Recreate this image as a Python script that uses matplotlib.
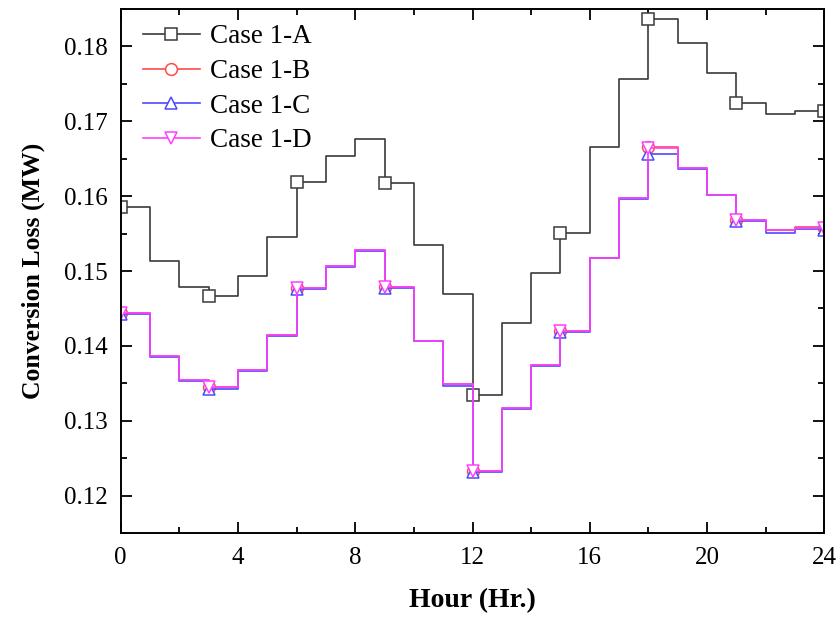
import matplotlib
matplotlib.use("Agg")
import matplotlib.pyplot as plt
from matplotlib.ticker import MultipleLocator, FormatStrFormatter

plt.rcParams['font.family'] = ['Liberation Serif', 'DejaVu Serif']

hours = list(range(25))

case_a = [0.1586, 0.1514, 0.1478, 0.1467, 0.1493, 0.1546, 0.1619, 0.1653, 0.1676,
          0.1618, 0.1535, 0.1469, 0.1334, 0.1431, 0.1498, 0.1551, 0.1665, 0.1757,
          0.1837, 0.1804, 0.1764, 0.1725, 0.1710, 0.1714, 0.1714]
case_b = [0.1444, 0.1386, 0.1354, 0.1345, 0.1368, 0.1414, 0.1477, 0.1507, 0.1528,
          0.1478, 0.1407, 0.1349, 0.1233, 0.1317, 0.1374, 0.1420, 0.1518, 0.1597,
          0.1666, 0.1637, 0.1602, 0.1568, 0.1555, 0.1559, 0.1558]
case_c = [0.1443, 0.1385, 0.1353, 0.1343, 0.1367, 0.1413, 0.1476, 0.1506, 0.1527,
          0.1477, 0.1406, 0.1347, 0.1232, 0.1316, 0.1373, 0.1419, 0.1517, 0.1596,
          0.1656, 0.1636, 0.1601, 0.1567, 0.1551, 0.1556, 0.1555]
case_d = [0.1444, 0.1386, 0.1354, 0.1345, 0.1368, 0.1414, 0.1477, 0.1507, 0.1528,
          0.1478, 0.1407, 0.1349, 0.1233, 0.1317, 0.1374, 0.1420, 0.1518, 0.1597,
          0.1664, 0.1637, 0.1602, 0.1568, 0.1555, 0.1558, 0.1557]

labels = ['Case 1-A', 'Case 1-B', 'Case 1-C', 'Case 1-D']
colors = ['#3a3a3a', '#ff4a4a', '#4a4aff', '#ff40ff']
markers = ['s', 'o', '^', 'v']

fig = plt.figure(figsize=(8.4, 6.17), dpi=100)
ax = fig.add_axes([0.1435, 0.1361, 0.838, 0.8493])

for series, lab, col, mk in zip([case_a, case_b, case_c, case_d], labels, colors, markers):
    ax.plot(hours, series, drawstyle='steps-post', color=col, lw=1.2,
            marker=mk, markevery=3, markersize=8.5, markerfacecolor='white',
            markeredgecolor=col, markeredgewidth=1.1, label=lab)

ax.set_xlim(0, 24)
ax.set_ylim(0.115, 0.185)
ax.xaxis.set_major_locator(MultipleLocator(4))
ax.xaxis.set_minor_locator(MultipleLocator(2))
ax.yaxis.set_major_locator(MultipleLocator(0.01))
ax.yaxis.set_minor_locator(MultipleLocator(0.005))
ax.yaxis.set_major_formatter(FormatStrFormatter('%.2f'))

ax.tick_params(which='both', direction='in', top=True, right=True, width=1.3,
               labelsize=18, colors='black')
ax.tick_params(which='major', length=8)
ax.tick_params(which='minor', length=4.5)
ax.tick_params(axis='x', pad=10)
ax.tick_params(axis='y', pad=9)
for sp in ax.spines.values():
    sp.set_linewidth(1.4)

ax.set_xlabel('Hour (Hr.)', fontsize=20, fontweight='bold', labelpad=14)
ax.set_ylabel('Conversion Loss (MW)', fontsize=18.5, fontweight='bold', labelpad=14)

ax.legend(loc='upper left', frameon=False, fontsize=19.5, handlelength=2.1,
          handletextpad=0.37, labelspacing=0.36, borderaxespad=0.0,
          borderpad=0.4, bbox_to_anchor=(0.0166, 0.9916))

fig.savefig('out.png', dpi=100)
